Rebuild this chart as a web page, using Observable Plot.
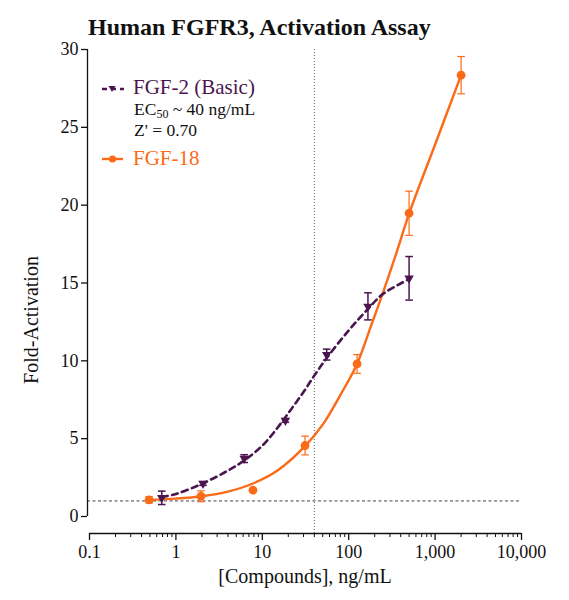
<!DOCTYPE html>
<html>
<head>
<meta charset="utf-8">
<script src="https://cdn.jsdelivr.net/npm/d3@7"></script>
<script src="https://cdn.jsdelivr.net/npm/@observablehq/plot@0.6"></script>
<style>
  body { margin: 0; background: #fff; }
  #wrap { position: relative; width: 569px; height: 600px; font-family: "Liberation Serif", "Times New Roman", serif; color: #111; overflow: hidden; }
  #chart { position: absolute; left: 0; top: 44px; }
  .lab { position: absolute; white-space: nowrap; line-height: 1; }
  #title { left: 88px; top: 15px; font-size: 24px; font-weight: bold; }
  #ylab { left: 31px; top: 320px; font-size: 20px; transform: translate(-50%, -50%) rotate(-90deg); }
  #xlab { left: 305px; top: 566px; font-size: 20px; transform: translateX(-50%); }
  .leg { font-size: 21px; }
  .note { font-size: 17.5px; color: #111; }
  .note sub { font-size: 12px; vertical-align: -3px; line-height: 0; }
  svg.sym { position: absolute; overflow: visible; }
</style>
</head>
<body>
<div id="wrap">
  <div class="lab" id="title">Human FGFR3, Activation Assay</div>
  <div id="chart"></div>
  <div class="lab" id="ylab">Fold-Activation</div>
  <div class="lab" id="xlab">[Compounds], ng/mL</div>
</div>
<script>
// Dose–response readings (ng/mL vs fold activation, mean ± SD)
const fgf2Conc = [0.686, 2.06, 6.17, 18.5, 55.6, 167, 500];
const fgf2Mean = [1.2, 2.12, 3.72, 6.17, 10.4, 13.5, 15.3];
const fgf2Err  = [0.43, 0.12, 0.25, 0.12, 0.35, 0.87, 1.4];

const fgf18Conc = [0.49, 1.95, 7.8, 31.25, 125, 500, 2000];
const fgf18Mean = [1.07, 1.3, 1.69, 4.56, 9.8, 19.48, 28.35];
const fgf18Err  = [0.2, 0.35, 0, 0.6, 0.6, 1.42, 1.2];

// Fitted curves, sampled along concentration
const fgf2CurveConc = [0.686, 1, 2, 4, 6, 10, 15, 21, 30, 40, 56, 100, 165, 250, 500];
const fgf2CurveFold = [1.25, 1.45, 2.1, 2.95, 3.55, 4.55, 5.7, 6.8, 8.0, 9.05, 10.2, 11.95, 13.3, 14.3, 15.25];

const fgf18CurveConc = [0.49, 1, 2, 4, 7.8, 15, 31, 50, 80, 125, 180, 250, 360, 500, 1000, 2000];
const fgf18CurveFold = [1.07, 1.15, 1.3, 1.6, 2.12, 2.95, 4.5, 5.9, 7.8, 9.8, 12.2, 14.4, 17.0, 19.45, 23.9, 28.35];

// Reference levels: basal activity and EC50 of FGF-2
const baseline = 1;
const ec50 = 40;

// Axes
const xDomain = [0.1, 10000];
const yDomain = [0, 30];
const xMajor = [0.1, 1, 10, 100, 1000, 10000];
const xMajorLabels = ["0.1", "1", "10", "100", "1,000", "10,000"];
const xMinorMultipliers = [2, 3, 4, 5, 6, 7, 8, 9];
const yTicks = [0, 5, 10, 15, 20, 25, 30];

const purple = "#4b164f";
const orange = "#fb6a17";

const xMinor = xMajor.slice(0, -1).flatMap(d => xMinorMultipliers.map(m => m * d));

const toRows = (conc, mean, err) => conc.map((c, i) => ({conc: c, mean: mean[i], err: err[i]}));
const fgf2 = toRows(fgf2Conc, fgf2Mean, fgf2Err);
const fgf18 = toRows(fgf18Conc, fgf18Mean, fgf18Err);
const fgf2Curve = fgf2CurveConc.map((c, i) => ({conc: c, fold: fgf2CurveFold[i]}));
const fgf18Curve = fgf18CurveConc.map((c, i) => ({conc: c, fold: fgf18CurveFold[i]}));

// Horizontal cap for error bars
const cap = {
  draw(context, size) {
    const w = Math.sqrt(size / Math.PI);
    context.moveTo(-w, 0);
    context.lineTo(w, 0);
  }
};

function errorMarks(rows, color, width) {
  const withErr = rows.filter(d => d.err > 0);
  return [
    Plot.ruleX(withErr, {x: "conc", y1: d => d.mean - d.err, y2: d => d.mean + d.err, stroke: color, strokeWidth: width}),
    Plot.dot(withErr, {x: "conc", y: d => d.mean - d.err, symbol: cap, r: 3.8, fill: "none", stroke: color, strokeWidth: width}),
    Plot.dot(withErr, {x: "conc", y: d => d.mean + d.err, symbol: cap, r: 3.8, fill: "none", stroke: color, strokeWidth: width})
  ];
}

const chart = Plot.plot({
  width: 569,
  height: 556,
  marginTop: 5,
  marginBottom: 67,
  marginLeft: 89,
  marginRight: 48,
  x: {type: "log", domain: xDomain},
  y: {domain: yDomain, insetBottom: 17},
  style: {fontFamily: '"Liberation Serif", "Times New Roman", serif', fontSize: "18px", color: "#111", background: "white", overflow: "visible"},
  marks: [
    Plot.ruleY([baseline], {stroke: "#444", strokeDasharray: "3,2.5", strokeWidth: 1, insetLeft: -2}),
    Plot.ruleX([ec50], {stroke: "#666", strokeDasharray: "1,2", strokeWidth: 1}),
    Plot.ruleX([xDomain[0]], {y1: yDomain[0], y2: yDomain[1], dx: -2, stroke: "#111", strokeWidth: 1.3}),
    Plot.ruleY([yDomain[0]], {x1: xDomain[0], x2: xDomain[1], dy: 17, stroke: "#111", strokeWidth: 1.3}),
    Plot.axisY({ticks: yTicks, tickSize: 6, tickPadding: 3, dx: -2, label: null, strokeWidth: 1.3}),
    Plot.axisX({ticks: xMinor, tickSize: 4, tickFormat: () => "", label: null, strokeWidth: 1}),
    Plot.axisX({ticks: xMajor, tickSize: 7, tickPadding: 5, tickFormat: d => xMajorLabels[xMajor.indexOf(d)], label: null, strokeWidth: 1.3}),
    ...errorMarks(fgf18, orange, 1.2),
    ...errorMarks(fgf2, purple, 1.5),
    Plot.line(fgf18Curve, {x: "conc", y: "fold", stroke: orange, strokeWidth: 2.4, curve: "catmull-rom"}),
    Plot.line(fgf2Curve, {x: "conc", y: "fold", stroke: purple, strokeWidth: 2.6, strokeDasharray: "6,4.5", curve: "catmull-rom"}),
    Plot.dot(fgf18, {x: "conc", y: "mean", r: 4.4, fill: orange}),
    Plot.dot(fgf2, {x: "conc", y: "mean", symbol: "triangle", rotate: 180, r: 3.5, fill: purple})
  ]
});
document.getElementById("chart").append(chart);

// Legend and assay annotations
const wrap = document.getElementById("wrap");
wrap.insertAdjacentHTML("beforeend", `
  <svg class="sym" style="left:100px;top:82px" width="26" height="14">
    <line x1="2" y1="7" x2="24" y2="7" stroke="${purple}" stroke-width="2.6" stroke-dasharray="5,4"/>
    <path d="M8.5,4 L15.5,4 L12,10 Z" fill="${purple}"/>
  </svg>
  <div class="lab leg" style="left:133px;top:77px;color:${purple}">FGF-2 (Basic)</div>
  <div class="lab note" style="left:134px;top:101px">EC<sub>50</sub> ~ 40 ng/mL</div>
  <div class="lab note" style="left:134px;top:122px">Z' = 0.70</div>
  <svg class="sym" style="left:100px;top:152px" width="26" height="14">
    <line x1="2" y1="7" x2="23" y2="7" stroke="${orange}" stroke-width="2.4"/>
    <circle cx="12.5" cy="7" r="3.6" fill="${orange}"/>
  </svg>
  <div class="lab leg" style="left:133px;top:148px;color:${orange}">FGF-18</div>
`);
</script>
</body>
</html>
